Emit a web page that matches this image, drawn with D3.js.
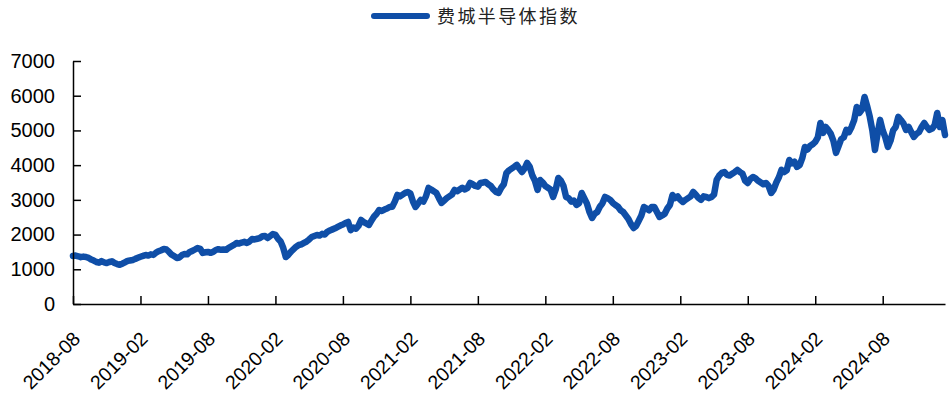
<!DOCTYPE html>
<html><head><meta charset="utf-8">
<script src="https://cdn.jsdelivr.net/npm/d3@7"></script>
<style>body{margin:0;background:#fff}svg{display:block}</style>
</head><body>
<svg id="c" width="950" height="396"></svg>
<script>
const seriesName = "费城半导体指数";
const yTicks = [0, 1000, 2000, 3000, 4000, 5000, 6000, 7000];
const xTickDates = ["2018-08-20","2019-02-18","2019-08-19","2020-02-17","2020-08-17","2021-02-15","2021-08-16","2022-02-14","2022-08-15","2023-02-13","2023-08-14","2024-02-12","2024-08-12"];
const firstDate = "2018-08-20";
const lastDate = "2025-01-27";
// weekly (Monday) readings, grouped by calendar month
const months = ["2018-08","2018-09","2018-10","2018-11","2018-12",
"2019-01","2019-02","2019-03","2019-04","2019-05","2019-06","2019-07","2019-08","2019-09","2019-10","2019-11","2019-12",
"2020-01","2020-02","2020-03","2020-04","2020-05","2020-06","2020-07","2020-08","2020-09","2020-10","2020-11","2020-12",
"2021-01","2021-02","2021-03","2021-04","2021-05","2021-06","2021-07","2021-08","2021-09","2021-10","2021-11","2021-12",
"2022-01","2022-02","2022-03","2022-04","2022-05","2022-06","2022-07","2022-08","2022-09","2022-10","2022-11","2022-12",
"2023-01","2023-02","2023-03","2023-04","2023-05","2023-06","2023-07","2023-08","2023-09","2023-10","2023-11","2023-12",
"2024-01","2024-02","2024-03","2024-04","2024-05","2024-06","2024-07","2024-08","2024-09","2024-10","2024-11","2024-12",
"2025-01"];
const weeklyValues = [
[1383,1395],[1375,1350,1365,1354],[1330,1280,1250,1210,1190],[1235,1200,1180,1210],[1230,1180,1150,1130,1160],
[1200,1240,1255,1268],[1300,1330,1360,1385],[1412,1395,1430,1415],[1480,1520,1550,1585,1570],[1500,1420,1380,1325],
[1340,1410,1440,1430],[1500,1530,1570,1614,1590],[1470,1490,1500,1475],[1500,1556,1580,1560,1570],[1560,1620,1660,1700],
[1758,1740,1770,1790],[1760,1800,1873,1860,1880],
[1900,1950,1960,1900],[1960,2017,1990,1880],[1800,1620,1354,1420,1510],[1580,1650,1700,1720],[1760,1800,1860,1930],
[1960,1988,1970,2020,2000],[2080,2120,2150,2180],[2219,2260,2290,2334,2363],[2130,2200,2170,2250],[2420,2360,2320,2277],
[2400,2520,2600,2709,2680],[2720,2750,2795,2800],
[2950,3141,3100,3150],[3200,3228,3180,2950],[2795,2900,3000,2950,3100],[3343,3300,3250,3200],[3050,2911,2980,3050,3100],
[3150,3285,3250,3300],[3350,3300,3343,3487],[3450,3400,3380,3487,3500],[3516,3450,3400,3300],[3228,3200,3350,3450],
[3775,3850,3900,3950,4006],[3900,3804,3900,4063],
[3950,3700,3550,3285,3573],[3500,3400,3350,3300],[3084,3300,3631,3550],[3400,3084,3050,2950],[2980,2853,2900,3199,3050],
[2900,2651,2478,2600],[2650,2800,2900,3084],[3050,3000,2911,2850,2800],[2700,2651,2550,2450],[2300,2190,2250,2400,2550],
[2795,2750,2700,2795],[2795,2650,2507,2550],
[2600,2750,2850,3141,3050],[3100,3000,2939,3000],[3050,3100,3228,3150],[3055,3000,3100,3084],[3050,3084,3150,3573,3700],
[3775,3800,3720,3700],[3750,3800,3862,3800,3750],[3550,3487,3600,3660],[3620,3550,3500,3450],[3487,3400,3199,3300,3500],
[3650,3862,3800,3850],[4150,4050,4100,3948],
[4000,4200,4524,4450,4550],[4600,4669,4800,5216],[4928,5100,5014,4900],[4700,4352,4550,4750,4800],[5014,4950,5100,5300],
[5677,5504,5600,5965],[5700,5400,5000,4438,4900],[5303,5000,4800,4524],[4700,5000,5100,5389,5300],[5200,5014,5100,4950],
[4813,4900,4950,5100],[5216,5100,5014,5050,5150],
[5504,5100,5300,4870]
];

const parse = d3.timeParse("%Y-%m-%d");
const start = parse(firstDate), end = parse(lastDate);
const points = [];
months.forEach((m, i) => {
  const [yy, mm] = m.split("-").map(Number);
  const ms = new Date(yy, mm - 1, 1), me = new Date(yy, mm, 1);
  const mondays = d3.timeMonday.range(ms < start ? start : ms, me);
  weeklyValues[i].forEach((v, j) => { if (mondays[j]) points.push({date: mondays[j], value: v}); });
});

const svg = d3.select("#c");
const x = d3.scaleTime().domain([start, end]).range([73, 945]);
const y = d3.scaleLinear().domain([0, 7000]).range([304, 61]);
const font = "'Liberation Sans', Arial, sans-serif";

// line
svg.append("path").datum(points)
  .attr("fill", "none").attr("stroke", "#0f4ea7").attr("stroke-width", 6.5)
  .attr("stroke-linejoin", "round").attr("stroke-linecap", "round")
  .attr("d", d3.line().x(d => x(d.date)).y(d => y(d.value)));

// y axis
const ya = svg.append("g").attr("transform", "translate(73,0)")
  .call(d3.axisLeft(y).tickValues(yTicks).tickSize(-8).tickPadding(18).tickSizeOuter(0).tickFormat(d3.format("d")));
ya.select(".domain").attr("stroke", "#000").attr("stroke-width", 1.5);
ya.selectAll(".tick line").attr("stroke", "#000").attr("stroke-width", 1.5);
ya.selectAll("text").attr("font-family", font).attr("font-size", 20).attr("fill", "#000");

// x axis
const xTicks = xTickDates.map(parse);
const xa = svg.append("g").attr("transform", "translate(0,304)")
  .call(d3.axisBottom(x).tickValues(xTicks).tickSize(-8).tickSizeOuter(0).tickFormat(d3.timeFormat("%Y-%m")));
xa.select(".domain").attr("stroke", "#000").attr("stroke-width", 1.5);
xa.selectAll(".tick line").attr("stroke", "#000").attr("stroke-width", 1.5);
xa.selectAll(".tick text")
  .attr("font-family", font).attr("font-size", 19.5).attr("fill", "#000")
  .attr("text-anchor", "end").attr("dy", null).attr("y", null)
  .attr("transform", "translate(8,36) rotate(-45)");

// legend
svg.append("line").attr("x1", 374).attr("x2", 427).attr("y1", 16).attr("y2", 16)
  .attr("stroke", "#0f4ea7").attr("stroke-width", 6).attr("stroke-linecap", "round");
svg.append("text").attr("x", 437).attr("y", 23)
  .attr("font-family", "'Noto Sans CJK SC', sans-serif").attr("font-size", 18)
  .attr("letter-spacing", 2.4).attr("fill", "#222").text(seriesName);
</script>
</body></html>
